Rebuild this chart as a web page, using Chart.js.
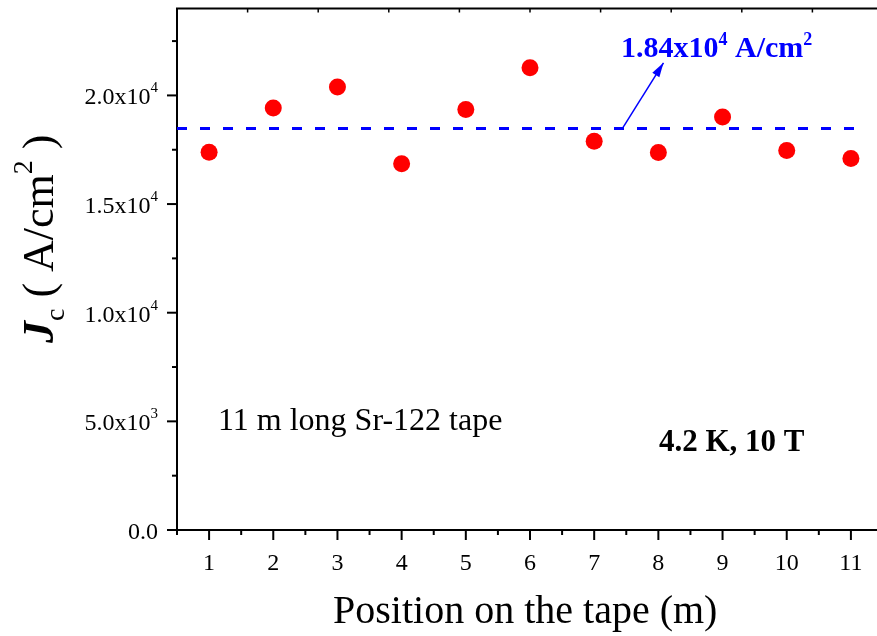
<!DOCTYPE html>
<html>
<head>
<meta charset="utf-8">
<script src="https://cdn.jsdelivr.net/npm/chart.js@4"></script>
<style>
  html, body { margin: 0; padding: 0; background: #fff; overflow: hidden; }
  #wrap { width: 900px; height: 636px; }
</style>
</head>
<body>
<div id="wrap"><canvas id="jcChart" width="900" height="636"></canvas></div>
<script>
// data
const positions = [1, 2, 3, 4, 5, 6, 7, 8, 9, 10, 11];
const jcValues = [17380, 19420, 20390, 16860, 19350, 21270, 17890, 17370, 19010, 17460, 17100];
const avgJc = 18480;
const avgLineRange = [0.5, 11.2];

const xTicks = [1, 2, 3, 4, 5, 6, 7, 8, 9, 10, 11];
const yTicks = [0, 5000, 10000, 15000, 20000];
const yTickMant = ['0.0', '5.0x10', '1.0x10', '1.5x10', '2.0x10'];
const yTickExp = ['', '3', '4', '4', '4'];

const SERIF = "'Liberation Serif', 'Times New Roman', serif";

// draws text pieces with sub/superscripts, returns end x
function drawRich(ctx, parts, x, y) {
    parts.forEach(p => {
        ctx.font = p.font;
        ctx.fillText(p.t, x, y + (p.dy || 0));
        x += ctx.measureText(p.t).width;
    });
    return x;
}
function richWidth(ctx, parts) {
    let w = 0;
    parts.forEach(p => { ctx.font = p.font; w += ctx.measureText(p.t).width; });
    return w;
}

const framePlugin = {
    id: 'frame',
    afterDraw(chart) {
        const ctx = chart.ctx;
        const xs = chart.scales.x, ys = chart.scales.y;
        const area = chart.chartArea;
        ctx.save();
        ctx.strokeStyle = '#000';
        ctx.fillStyle = '#000';
        ctx.lineWidth = 2;

        // top frame line
        ctx.beginPath();
        ctx.moveTo(area.left - 1, area.top);
        ctx.lineTo(area.right, area.top);
        ctx.stroke();

        // top ticks (inward)
        ctx.lineWidth = 1.5;
        for (let v = 1.6; v < 11.5; v += 1.1) {
            const px = xs.getPixelForValue(v);
            ctx.beginPath();
            ctx.moveTo(px, area.top);
            ctx.lineTo(px, area.top + 4);
            ctx.stroke();
        }

        // x ticks
        ctx.lineWidth = 2;
        for (let v = 0.5; v <= 11.5; v += 0.5) {
            const px = xs.getPixelForValue(v);
            const major = Number.isInteger(v);
            ctx.beginPath();
            ctx.moveTo(px, area.bottom);
            ctx.lineTo(px, area.bottom + (major ? 10 : 5));
            ctx.stroke();
        }
        ctx.font = '24px ' + SERIF;
        ctx.textAlign = 'center';
        ctx.textBaseline = 'alphabetic';
        xTicks.forEach(v => {
            ctx.fillText(String(v), xs.getPixelForValue(v), 570);
        });

        // y ticks
        for (let v = 0; v <= 22500; v += 2500) {
            const py = ys.getPixelForValue(v);
            const major = v % 5000 === 0;
            ctx.beginPath();
            ctx.moveTo(area.left, py);
            ctx.lineTo(area.left - (major ? 10 : 5), py);
            ctx.stroke();
        }
        ctx.textAlign = 'left';
        yTicks.forEach((v, i) => {
            const py = ys.getPixelForValue(v) + 9;
            const parts = [{ t: yTickMant[i], font: '24px ' + SERIF }];
            if (yTickExp[i]) parts.push({ t: yTickExp[i], font: '15px ' + SERIF, dy: -12 });
            const w = richWidth(ctx, parts);
            drawRich(ctx, parts, area.left - 19 - w, py);
        });

        // y title (rotated)
        ctx.save();
        ctx.translate(53, 343);
        ctx.rotate(-Math.PI / 2);
        drawRich(ctx, [
            { t: 'J', font: 'italic bold 44px ' + SERIF },
            { t: 'c', font: '28px ' + SERIF, dy: 11 },
            { t: ' ( A/cm', font: '44px ' + SERIF },
            { t: '2', font: '28px ' + SERIF, dy: -21 },
            { t: ' )', font: '44px ' + SERIF }
        ], 0, 0);
        ctx.restore();

        // x title
        ctx.font = '40px ' + SERIF;
        ctx.textAlign = 'left';
        ctx.fillText('Position on the tape (m)', 333, 623);

        // annotations
        ctx.font = '32px ' + SERIF;
        ctx.fillText('11 m long Sr-122 tape', 218, 430);
        ctx.font = 'bold 31px ' + SERIF;
        ctx.fillText('4.2 K, 10 T', 659, 451);

        ctx.fillStyle = '#0000ff';
        drawRich(ctx, [
            { t: '1.84x10', font: 'bold 30px ' + SERIF },
            { t: '4', font: 'bold 18px ' + SERIF, dy: -12 },
            { t: ' A/cm', font: 'bold 30px ' + SERIF },
            { t: '2', font: 'bold 18px ' + SERIF, dy: -12 }
        ], 621, 57);

        // arrow from average line to label
        const x0 = xs.getPixelForValue(7.44), y0 = ys.getPixelForValue(avgJc);
        const x1 = xs.getPixelForValue(8.08), y1 = ys.getPixelForValue(21500);
        ctx.strokeStyle = '#0000ff';
        ctx.lineWidth = 1.5;
        ctx.beginPath();
        ctx.moveTo(x0, y0);
        ctx.lineTo(x1, y1);
        ctx.stroke();
        const ang = Math.atan2(y1 - y0, x1 - x0);
        ctx.beginPath();
        ctx.moveTo(x1, y1);
        ctx.lineTo(x1 - 15 * Math.cos(ang - 0.28), y1 - 15 * Math.sin(ang - 0.28));
        ctx.lineTo(x1 - 15 * Math.cos(ang + 0.28), y1 - 15 * Math.sin(ang + 0.28));
        ctx.closePath();
        ctx.fill();

        ctx.restore();
    }
};

const ctx = document.getElementById('jcChart').getContext('2d');
new Chart(ctx, {
    type: 'scatter',
    data: {
        datasets: [
            {
                type: 'line',
                data: avgLineRange.map(x => ({ x: x, y: avgJc })),
                borderColor: '#0000ff',
                borderWidth: 3,
                borderDash: [10, 13],
                pointRadius: 0,
                fill: false
            },
            {
                data: positions.map((p, i) => ({ x: p, y: jcValues[i] })),
                backgroundColor: '#ff0000',
                borderWidth: 0,
                pointRadius: 8.5,
                pointHoverRadius: 8.5
            }
        ]
    },
    options: {
        responsive: false,
        animation: false,
        layout: { padding: { left: 0, top: 8, right: 17, bottom: 0 } },
        plugins: { legend: { display: false }, tooltip: { enabled: false } },
        scales: {
            x: {
                type: 'linear',
                min: 0.5,
                max: 11.5,
                ticks: { display: false },
                grid: { display: false },
                border: { display: true, color: '#000', width: 2 },
                afterFit: s => { s.height = 106; }
            },
            y: {
                min: 0,
                max: 24000,
                ticks: { display: false },
                grid: { display: false },
                border: { display: true, color: '#000', width: 2 },
                afterFit: s => { s.width = 177; }
            }
        }
    },
    plugins: [framePlugin]
});
</script>
</body>
</html>
